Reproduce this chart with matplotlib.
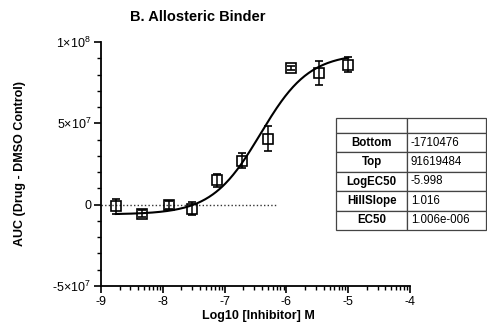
import numpy as np
import matplotlib
matplotlib.use("Agg")
import matplotlib.pyplot as plt
from matplotlib.ticker import FixedLocator, MultipleLocator

plt.rcParams['font.family'] = ['Liberation Sans', 'DejaVu Sans']
plt.rcParams['mathtext.default'] = 'regular'

# measured points: log10 concentration, mean AUC, error
log_conc = [-8.76, -8.33, -7.90, -7.53, -7.12, -6.72, -6.30, -5.93, -5.48, -5.00]
auc = [-0.1e7, -0.55e7, 0.0, -0.25e7, 1.5e7, 2.7e7, 4.05e7, 8.4e7, 8.1e7, 8.6e7]
auc_err = [0.45e7, 0.2e7, 0.25e7, 0.4e7, 0.4e7, 0.47e7, 0.77e7, 0.15e7, 0.72e7, 0.45e7]

# 4PL curve as it is drawn in the figure
fit_bottom, fit_top, fit_logec50, fit_hill = -0.6e7, 9.3e7, -6.42, 1.1

# parameter table
param_names = ['Bottom', 'Top', 'LogEC50', 'HillSlope', 'EC50']
param_values = ['-1710476', '91619484', '-5.998', '1.016', '1.006e-006']

yticks = [-5e7, 0, 5e7, 1e8]
ytick_labels = ['-5×10$^{7}$', '0', '5×10$^{7}$', '1×10$^{8}$']
xticks = [-9, -8, -7, -6, -5, -4]

fig = plt.figure(figsize=(4.87, 3.28), dpi=100)
ax = fig.add_axes([101 / 487, 42 / 328, 309 / 487, 244 / 328])

# fitted curve
xs = np.linspace(log_conc[0], log_conc[-1], 300)
ys = fit_bottom + (fit_top - fit_bottom) / (1 + 10 ** ((fit_logec50 - xs) * fit_hill))
ax.plot(xs, ys, color='k', lw=1.5, zorder=3)

# baseline
ax.plot([-9, -6.15], [0, 0], ls=(0, (1, 1.6)), color='#333333', lw=1.0, zorder=2)

ax.errorbar(log_conc, auc, yerr=auc_err, fmt='s', mfc='none', mec='k', ms=6.5,
            mew=1.2, ecolor='k', elinewidth=1.1, capsize=3.2, capthick=1.1, zorder=4)

ax.set_xlim(-9, -4)
ax.set_ylim(-5e7, 1e8)
ax.set_xticks(xticks)
ax.set_xticklabels([str(t) for t in xticks])
ax.xaxis.set_minor_locator(FixedLocator(
    [d + np.log10(k) for d in xticks[:-1] for k in range(2, 10)]))
ax.set_yticks(yticks)
ax.set_yticklabels(ytick_labels)
ax.yaxis.set_minor_locator(MultipleLocator(1e7))

for s in ['top', 'right']:
    ax.spines[s].set_visible(False)
for s in ['left', 'bottom']:
    ax.spines[s].set_linewidth(1.3)
ax.tick_params(which='major', length=5, width=1.2, labelsize=9, pad=2)
ax.tick_params(which='minor', length=3, width=1.0)

fig.text(130 / 487, 1 - 17 / 328, 'B. Allosteric Binder', fontsize=10.5,
         fontweight='bold', ha='left', va='center')
fig.text(20 / 487, 1 - 164 / 328, 'AUC (Drug - DMSO Control)', fontsize=9,
         fontweight='bold', rotation=90, ha='center', va='center')
fig.text(258 / 487, 1 - 316 / 328, 'Log10 [Inhibitor] M', fontsize=9,
         fontweight='bold', ha='center', va='center')

# table of fit parameters
tab_ax = fig.add_axes([336 / 487, 1 - 230 / 328, 150 / 487, 112 / 328])
tab_ax.axis('off')
cell_text = [['', '']] + [[n, v] for n, v in zip(param_names, param_values)]
tbl = tab_ax.table(cellText=cell_text, colWidths=[71, 79], bbox=[0, 0, 1, 1])
tbl.auto_set_font_size(False)
for (r, c), cell in tbl.get_celld().items():
    cell.set_edgecolor('#444444')
    cell.set_linewidth(0.9)
    cell.set_height(15 if r == 0 else 19.4)
    cell.set_fontsize(8.3)
    if c == 0:
        cell.get_text().set_fontweight('bold')
        cell.get_text().set_ha('center')
    else:
        cell.get_text().set_ha('left')
        cell.PAD = 0.05

fig.savefig('out.png', dpi=100)
